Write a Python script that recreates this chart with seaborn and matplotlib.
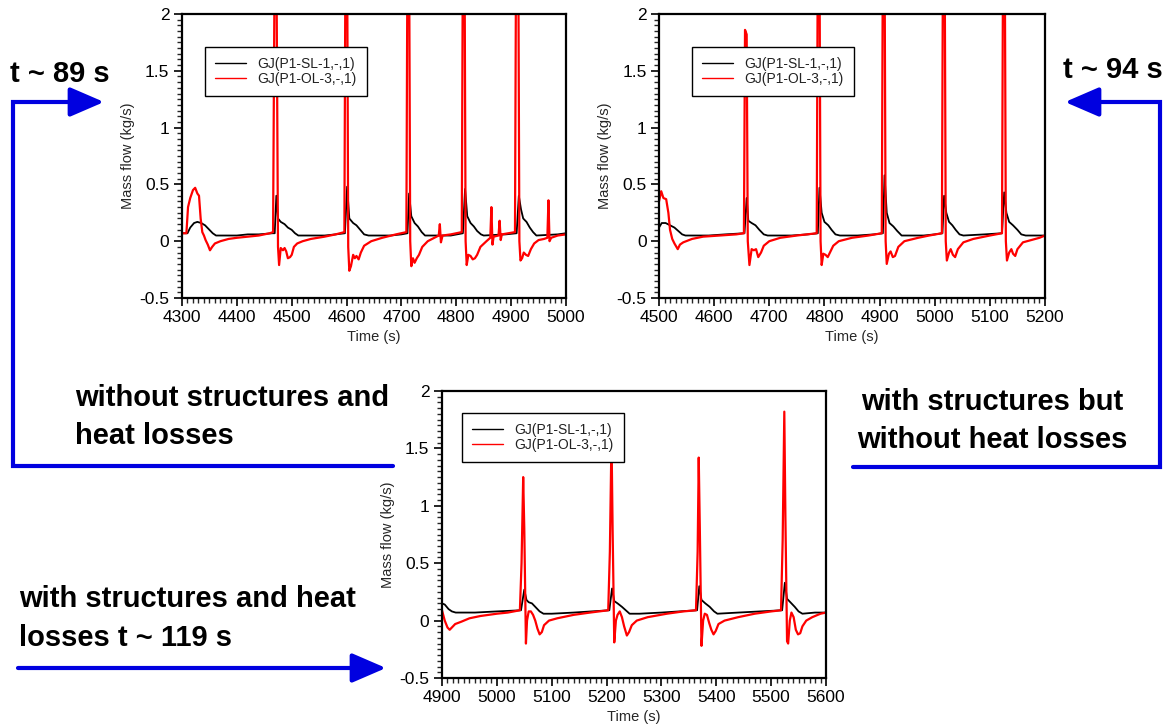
import numpy as np
import pandas as pd
import matplotlib
matplotlib.use("Agg")
import matplotlib.pyplot as plt
import seaborn as sns
from matplotlib.ticker import MultipleLocator, FuncFormatter

# ---------------- data ----------------
labels = ["GJ(P1-SL-1,-,1)", "GJ(P1-OL-3,-,1)"]

# Panel 1: without structures and heat losses
p1_ol_t = [4300, 4308, 4311, 4315, 4320, 4324, 4328, 4331, 4334, 4337, 4340, 4343, 4347, 4351, 4355, 4360, 4370, 4385, 4400, 4420, 4440, 4460, 4466,
           4469, 4472, 4475, 4477, 4480, 4484, 4487, 4490, 4493, 4497, 4500, 4504, 4510, 4520, 4535, 4560, 4580, 4596,
           4598, 4601, 4603, 4605, 4608, 4612, 4615, 4618, 4622, 4626, 4632, 4645, 4665, 4690, 4709,
           4711, 4714, 4716, 4718, 4721, 4724, 4728, 4732, 4738, 4748, 4760, 4768, 4770, 4772, 4775, 4790, 4810,
           4812, 4815, 4817, 4819, 4822, 4826, 4830, 4834, 4838, 4844, 4855, 4862, 4864, 4866, 4868, 4877, 4879, 4881, 4883, 4895, 4907,
           4909, 4913, 4915, 4917, 4920, 4923, 4927, 4931, 4936, 4942, 4950, 4960, 4966, 4968, 4970, 4973, 4985, 5000]
p1_ol_v = [0.07, 0.07, 0.30, 0.38, 0.45, 0.47, 0.42, 0.40, 0.20, 0.08, 0.05, 0.01, -0.03, -0.08, -0.05, -0.02, 0.0, 0.02, 0.03, 0.04, 0.05, 0.07, 0.08,
           2.6, 2.6, -0.05, -0.21, -0.06, -0.08, -0.06, -0.09, -0.15, -0.14, -0.12, -0.05, -0.02, 0.0, 0.02, 0.04, 0.06, 0.08,
           2.6, 2.6, -0.05, -0.26, -0.22, -0.12, -0.15, -0.13, -0.16, -0.10, -0.04, 0.0, 0.03, 0.06, 0.08,
           2.6, 2.6, 0.0, -0.22, -0.15, -0.19, -0.15, -0.12, -0.05, 0.0, 0.03, 0.05, 0.15, -0.01, 0.05, 0.06, 0.08,
           2.6, 2.6, 0.0, -0.21, -0.12, -0.13, -0.16, -0.15, -0.12, -0.05, 0.0, 0.03, 0.30, -0.03, 0.04, 0.05, 0.18, 0.01, 0.06, 0.07, 0.08,
           2.6, 2.6, 0.0, -0.17, -0.15, -0.10, -0.12, -0.13, -0.07, -0.02, 0.01, 0.02, 0.03, 0.36, 0.0, 0.03, 0.05, 0.06]
p1_sl_t = [4300, 4310, 4315, 4322, 4328, 4335, 4342, 4350, 4356, 4362, 4400, 4420, 4440, 4465,
           4469, 4472, 4475, 4480, 4487, 4493, 4500, 4506, 4512, 4560, 4580, 4597,
           4601, 4605, 4612, 4618, 4625, 4632, 4640, 4680, 4700, 4711,
           4714, 4718, 4724, 4730, 4737, 4743, 4790, 4812,
           4816, 4820, 4826, 4832, 4838, 4845, 4850, 4890, 4910,
           4914, 4918, 4922, 4928, 4934, 4940, 4946, 4985, 5000]
p1_sl_v = [0.07, 0.07, 0.12, 0.16, 0.17, 0.16, 0.14, 0.10, 0.07, 0.05, 0.05, 0.06, 0.06, 0.07,
           0.07, 0.40, 0.20, 0.17, 0.15, 0.12, 0.10, 0.07, 0.05, 0.05, 0.06, 0.07,
           0.48, 0.20, 0.16, 0.14, 0.10, 0.06, 0.05, 0.05, 0.06, 0.07,
           0.42, 0.22, 0.16, 0.13, 0.08, 0.05, 0.05, 0.07,
           0.46, 0.22, 0.16, 0.13, 0.09, 0.06, 0.05, 0.06, 0.07,
           0.40, 0.28, 0.20, 0.17, 0.12, 0.08, 0.05, 0.06, 0.07]

# Panel 2: with structures but without heat losses
p2_ol_t = [4500, 4504, 4508, 4513, 4517, 4520, 4524, 4528, 4534, 4538, 4544, 4560, 4580, 4610, 4640, 4654,
           4656, 4659, 4661, 4664, 4668, 4672, 4676, 4680, 4685, 4690, 4700, 4720, 4750, 4786,
           4788, 4791, 4793, 4795, 4798, 4802, 4806, 4810, 4816, 4826, 4850, 4880, 4904,
           4906, 4909, 4911, 4913, 4917, 4920, 4924, 4928, 4934, 4945, 4970, 4990, 5013,
           5015, 5018, 5020, 5022, 5026, 5029, 5033, 5037, 5042, 5052, 5070, 5100, 5122,
           5124, 5127, 5129, 5131, 5135, 5139, 5142, 5146, 5150, 5160, 5175, 5190, 5200]
p2_ol_v = [0.35, 0.44, 0.38, 0.37, 0.25, 0.10, 0.02, -0.02, -0.07, -0.03, -0.01, 0.02, 0.04, 0.05, 0.06, 0.07,
           1.86, 1.82, 0.0, -0.21, -0.07, -0.08, -0.07, -0.14, -0.10, -0.04, 0.0, 0.03, 0.05, 0.07,
           2.6, 2.6, 0.0, -0.21, -0.11, -0.12, -0.14, -0.10, -0.04, 0.0, 0.03, 0.05, 0.07,
           2.6, 2.6, 0.0, -0.20, -0.11, -0.09, -0.14, -0.13, -0.05, 0.0, 0.03, 0.05, 0.07,
           2.6, 2.6, 0.0, -0.17, -0.10, -0.07, -0.12, -0.14, -0.07, -0.01, 0.02, 0.05, 0.07,
           2.6, 2.6, 0.0, -0.17, -0.10, -0.07, -0.11, -0.13, -0.07, -0.01, 0.01, 0.03, 0.05]
p2_sl_t = [4500, 4505, 4512, 4520, 4528, 4535, 4542, 4548, 4590, 4620, 4655,
           4659, 4662, 4668, 4675, 4682, 4690, 4697, 4740, 4770, 4788,
           4791, 4795, 4800, 4807, 4813, 4820, 4828, 4860, 4890, 4906,
           4909, 4913, 4918, 4925, 4932, 4940, 4980, 5000, 5014,
           5017, 5021, 5026, 5032, 5038, 5045, 5052, 5090, 5122,
           5126, 5130, 5135, 5142, 5150, 5157, 5165, 5200]
p2_sl_v = [0.12, 0.16, 0.16, 0.14, 0.12, 0.09, 0.06, 0.05, 0.05, 0.06, 0.07,
           0.38, 0.18, 0.16, 0.14, 0.10, 0.06, 0.05, 0.05, 0.06, 0.07,
           0.47, 0.25, 0.17, 0.14, 0.10, 0.06, 0.05, 0.05, 0.06, 0.07,
           0.58, 0.25, 0.16, 0.13, 0.09, 0.05, 0.05, 0.06, 0.07,
           0.40, 0.25, 0.17, 0.14, 0.10, 0.06, 0.05, 0.06, 0.07,
           0.43, 0.25, 0.17, 0.14, 0.10, 0.06, 0.05, 0.05]

# Panel 3: with structures and heat losses
p3_ol_t = [4900, 4905, 4910, 4914, 4918, 4924, 4935, 4950, 4970, 5000, 5020, 5042,
           5045, 5048, 5050, 5053, 5055, 5058, 5062, 5066, 5070, 5074, 5078, 5082, 5086, 5095, 5110, 5140, 5170, 5203,
           5206, 5209, 5211, 5214, 5217, 5220, 5224, 5228, 5232, 5237, 5241, 5246, 5255, 5275, 5310, 5340, 5363,
           5366, 5368, 5370, 5373, 5376, 5379, 5383, 5387, 5391, 5395, 5399, 5404, 5415, 5440, 5470, 5500, 5518,
           5521, 5524, 5526, 5529, 5531, 5534, 5537, 5541, 5545, 5549, 5553, 5557, 5564, 5575, 5590, 5600]
p3_ol_v = [0.09, 0.0, -0.06, -0.08, -0.06, -0.03, -0.01, 0.02, 0.04, 0.06, 0.07, 0.09,
           0.5, 1.25, 0.8, -0.20, 0.0, 0.08, 0.08, 0.05, 0.0, -0.07, -0.12, -0.10, -0.04, 0.0, 0.02, 0.05, 0.07, 0.09,
           0.6, 1.6, 0.8, -0.19, 0.0, 0.05, 0.08, 0.03, -0.05, -0.13, -0.10, -0.04, 0.0, 0.03, 0.06, 0.08, 0.09,
           0.6, 1.42, 0.8, -0.22, 0.0, 0.06, 0.05, -0.02, -0.08, -0.12, -0.09, -0.03, 0.0, 0.03, 0.06, 0.08, 0.09,
           0.7, 1.82, 0.9, -0.18, -0.20, 0.0, 0.07, 0.03, -0.08, -0.12, -0.11, -0.05, 0.0, 0.03, 0.06, 0.07]
p3_sl_t = [4900, 4905, 4912, 4918, 4925, 4960, 5000, 5044,
           5050, 5054, 5058, 5064, 5070, 5078, 5085, 5100, 5140, 5205,
           5210, 5214, 5220, 5228, 5235, 5242, 5260, 5300, 5365,
           5369, 5373, 5380, 5388, 5396, 5402, 5440, 5520,
           5525, 5529, 5535, 5543, 5550, 5557, 5580, 5600]
p3_sl_v = [0.15, 0.14, 0.10, 0.08, 0.07, 0.07, 0.08, 0.09,
           0.27, 0.18, 0.16, 0.15, 0.12, 0.08, 0.06, 0.06, 0.07, 0.09,
           0.28, 0.17, 0.15, 0.12, 0.09, 0.06, 0.06, 0.07, 0.09,
           0.30, 0.18, 0.15, 0.12, 0.08, 0.06, 0.07, 0.09,
           0.33, 0.19, 0.16, 0.12, 0.08, 0.06, 0.07, 0.07]

x_ranges = [(4300, 5000), (4500, 5200), (4900, 5600)]

# ---------------- style ----------------
sns.set_style("ticks")
plt.rcParams["font.family"] = ["Liberation Sans", "DejaVu Sans"]

W, H = 1170, 724
fig = plt.figure(figsize=(W / 100, H / 100), dpi=100)


def ax_at(l, t, r, b):
    return fig.add_axes([l / W, 1 - b / H, (r - l) / W, (b - t) / H])


axes_px = [(182, 14, 566, 298), (659, 14, 1045, 298), (442, 391, 826, 678)]
legend_anchor = [(0.06, 0.885), (0.085, 0.885), (0.052, 0.925)]
panels = [
    (p1_sl_t, p1_sl_v, p1_ol_t, p1_ol_v),
    (p2_sl_t, p2_sl_v, p2_ol_t, p2_ol_v),
    (p3_sl_t, p3_sl_v, p3_ol_t, p3_ol_v),
]

fmt = FuncFormatter(lambda v, p: ("%g" % round(v, 2)))

for i, (pos, (st, sv, ot, ov), xr, la) in enumerate(zip(axes_px, panels, x_ranges, legend_anchor)):
    ax = ax_at(*pos)
    df_sl = pd.DataFrame({"t": st, "v": sv})
    df_ol = pd.DataFrame({"t": ot, "v": ov})
    sns.lineplot(data=df_sl, x="t", y="v", ax=ax, color="black", lw=1.3,
                 estimator=None, sort=False, label=labels[0])
    sns.lineplot(data=df_ol, x="t", y="v", ax=ax, color="#ff0000", lw=1.6,
                 estimator=None, sort=False, label=labels[1])
    ax.set_xlim(*xr)
    ax.set_ylim(-0.5, 2)
    ax.xaxis.set_major_locator(MultipleLocator(100))
    ax.xaxis.set_minor_locator(MultipleLocator(10))
    ax.yaxis.set_major_locator(MultipleLocator(0.5))
    ax.yaxis.set_minor_locator(MultipleLocator(0.05))
    ax.yaxis.set_major_formatter(fmt)
    ax.tick_params(axis="both", which="major", direction="out", length=6, width=1.2,
                   labelsize=12.5, pad=3, colors="black")
    ax.tick_params(axis="both", which="minor", direction="out", length=3.5, width=1.0)
    for s in ax.spines.values():
        s.set_visible(True)
        s.set_linewidth(1.6)
        s.set_color("black")
    ax.set_xlabel("Time (s)", fontsize=10.5, labelpad=3)
    ax.set_ylabel("Mass flow (kg/s)", fontsize=10.5, labelpad=3)
    leg = ax.legend(loc="upper left", bbox_to_anchor=la, fontsize=10, frameon=True,
                    fancybox=False, edgecolor="black", framealpha=1,
                    handlelength=2.2, handletextpad=0.8, borderpad=0.75,
                    labelspacing=0.05, borderaxespad=0)
    leg.get_frame().set_linewidth(1.0)
    for line in leg.get_lines():
        line.set_linewidth(1.0)
    for txt in leg.get_texts():
        txt.set_color("#222222")

# ---------------- annotations ----------------
BLUE = "#0000e0"
LW = 3.0


def P(x, y):
    return (x / W, 1 - y / H)


def poly(pts):
    xs = [p[0] / W for p in pts]
    ys = [1 - p[1] / H for p in pts]
    fig.add_artist(plt.Line2D(xs, ys, transform=fig.transFigure, color=BLUE, lw=LW,
                              solid_capstyle="round", solid_joinstyle="miter"))


def arrow(x0, y0, x1, y1):
    fig.add_artist(matplotlib.patches.FancyArrowPatch(
        P(x0, y0), P(x1, y1), transform=fig.transFigure,
        arrowstyle="-|>,head_length=2.2,head_width=0.95", mutation_scale=9.5,
        color=BLUE, lw=LW, shrinkA=0, shrinkB=0, capstyle="round"))


poly([(393, 466), (13, 466), (13, 102), (80, 102)])
arrow(70, 102, 104, 102)
poly([(853, 467), (1160, 467), (1160, 102), (1085, 102)])
arrow(1095, 102, 1065, 102)
arrow(18, 668, 386, 668)

TXT = dict(fontsize=21, fontweight="bold", color="black", transform=fig.transFigure)
fig.text(*P(10, 82), "t ~ 89 s", ha="left", va="baseline", **TXT)
fig.text(*P(1163, 78), "t ~ 94 s", ha="right", va="baseline", **TXT)
fig.text(*P(75, 406), "without structures and", ha="left", va="baseline", **TXT)
fig.text(*P(75, 444), "heat losses", ha="left", va="baseline", **TXT)
fig.text(*P(992, 410), "with structures but", ha="center", va="baseline", **TXT)
fig.text(*P(992, 448), "without heat losses", ha="center", va="baseline", **TXT)
fig.text(*P(19, 607), "with structures and heat", ha="left", va="baseline", **TXT)
fig.text(*P(19, 646), "losses t ~ 119 s", ha="left", va="baseline", **TXT)

fig.savefig("out.png", dpi=100)
